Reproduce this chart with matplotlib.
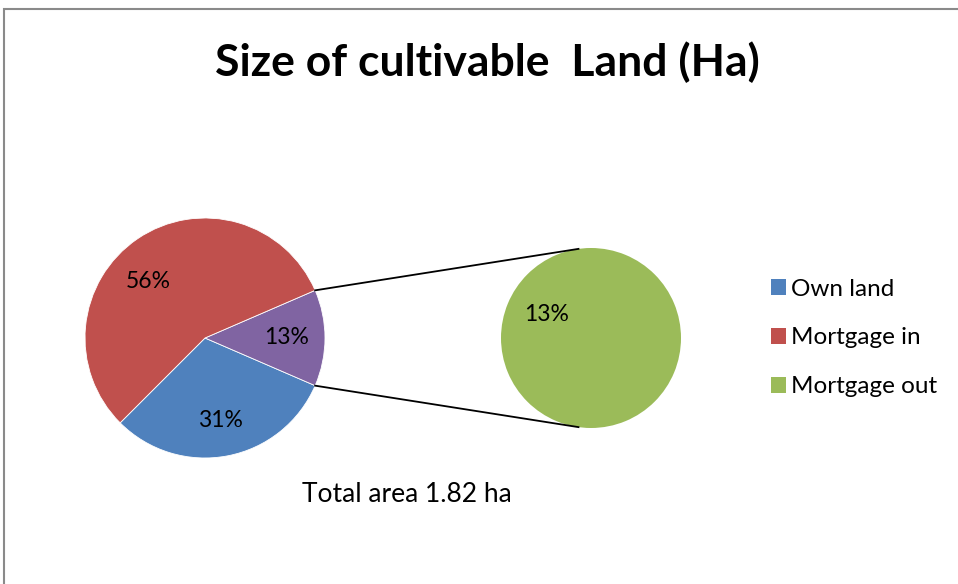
import numpy as np
import matplotlib.pyplot as plt
from matplotlib.patches import Rectangle, Patch

plt.rcParams['font.family'] = ['Lato', 'DejaVu Sans']

# data
categories = ["Own land", "Mortgage in", "Mortgage out"]
shares = [31, 56, 13]
colors = ["#4F81BD", "#C0504D", "#9BBB59"]
other_color = "#8064A2"
title = "Size of cultivable  Land (Ha)"
note = "Total area 1.82 ha"

W, H = 958, 584
fig = plt.figure(figsize=(W / 100, H / 100), dpi=100)
ax = fig.add_axes([0, 0, 1, 1])

def reset_axes():
    ax.set_xlim(0, W)
    ax.set_ylim(0, H)
    ax.set_aspect('equal')
    ax.axis('off')

reset_axes()

# frame (only left and top edges visible)
ax.add_patch(Rectangle((4, -20), W + 40, H - 9 + 20, fill=False,
                       edgecolor='#8a8a8a', linewidth=1.5))

# main pie: own land, other (= mortgage out), mortgage in
c1, r1 = (205, 246), 120
main_vals = [shares[0], shares[2], shares[1]]
main_cols = [colors[0], other_color, colors[1]]
wedges, _ = ax.pie(main_vals, colors=main_cols, startangle=225,
                   counterclock=True, center=c1, radius=r1,
                   wedgeprops=dict(linewidth=0.6, edgecolor='white'),
                   frame=True)
reset_axes()

total = sum(main_vals)
lab_r = [0.70, 0.68, 0.67]
lab_ang_shift = [0, 0, 11]
for i, (w, v) in enumerate(zip(wedges, main_vals)):
    mid = np.deg2rad((w.theta1 + w.theta2) / 2 + lab_ang_shift[i])
    x = c1[0] + lab_r[i] * r1 * np.cos(mid)
    y = c1[1] + lab_r[i] * r1 * np.sin(mid)
    ax.text(x, y, f"{round(100 * v / total)}%", ha='center', va='center',
            fontsize=16.5, color='black')

# secondary pie for the "other" slice
c2, r2 = (591, 246), 90
ax.pie([shares[2]], colors=[colors[2]], center=c2, radius=r2,
       startangle=90, frame=True)
reset_axes()
ax.text(c2[0] + 50 * np.cos(np.deg2rad(152)),
        c2[1] + 50 * np.sin(np.deg2rad(152)),
        f"{shares[2]}%", ha='center', va='center', fontsize=16.5)

# connector lines
ow = wedges[1]
for a_main, a_sec in [(ow.theta2, 98), (ow.theta1, 262)]:
    p = (c1[0] + r1 * np.cos(np.deg2rad(a_main)),
         c1[1] + r1 * np.sin(np.deg2rad(a_main)))
    q = (c2[0] + r2 * np.cos(np.deg2rad(a_sec)),
         c2[1] + r2 * np.sin(np.deg2rad(a_sec)))
    ax.plot([p[0], q[0]], [p[1], q[1]], color='black', linewidth=1.3)

ax.text(487, H - 62, title, ha='center', va='center', fontsize=32,
        fontweight='bold')
ax.text(407, H - 495, note, ha='center', va='center', fontsize=19)

handles = [Patch(facecolor=c, edgecolor='none') for c in colors]
ax.legend(handles, categories, loc='center left',
          bbox_to_anchor=(771 / W, (H - 338) / H), frameon=False,
          fontsize=17.5, handlelength=0.6, handleheight=0.6,
          handletextpad=0.22, labelspacing=1.15, borderpad=0,
          borderaxespad=0)

fig.savefig("out.png", dpi=100)
